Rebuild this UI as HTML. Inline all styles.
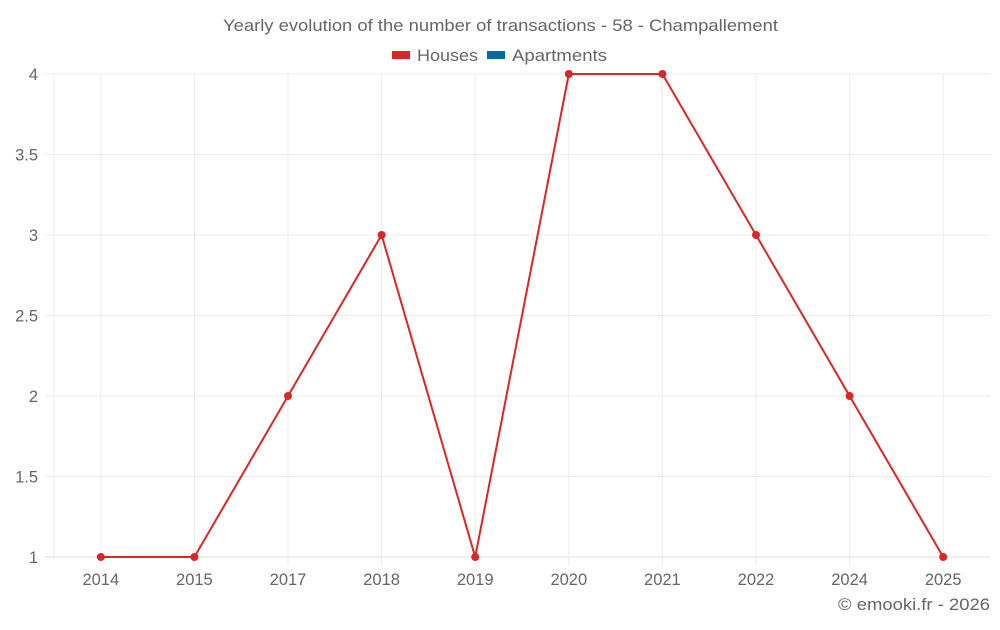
<!DOCTYPE html>
<html><head><meta charset="utf-8"><style>
body{margin:0;background:#fff;font-family:"Liberation Sans",sans-serif}
svg text{font-family:"Liberation Sans",sans-serif;fill:#666}
</style></head><body>
<svg id="c" width="1000" height="625" xmlns="http://www.w3.org/2000/svg">
<text x="223" y="31" font-size="16.5" textLength="555" lengthAdjust="spacingAndGlyphs">Yearly evolution of the number of transactions - 58 - Champallement</text>
<g><rect x="392" y="51" width="18" height="8" fill="#dc2626"/><text x="417" y="61" font-size="16.5" textLength="61" lengthAdjust="spacingAndGlyphs">Houses</text></g>
<g><rect x="487" y="51" width="18" height="8" fill="#0369a1"/><text x="512" y="61" font-size="16.5" textLength="95" lengthAdjust="spacingAndGlyphs">Apartments</text></g>
<g id="grid"></g><g id="axes"></g><g id="series"></g>
<text x="838" y="610" font-size="16.5" textLength="152" lengthAdjust="spacingAndGlyphs">© emooki.fr - 2026</text>
</svg>
<script>
const categories=["2014","2015","2017","2018","2019","2020","2021","2022","2024","2025"];
const houses=[1,1,2,3,1,4,4,3,2,1];
const yTicks=[1,1.5,2,2.5,3,3.5,4];
const yTickLabels=["1","1.5","2","2.5","3","3.5","4"];
const NS="http://www.w3.org/2000/svg";
const L=54,R=990,T=74,B=557,yMin=1,yMax=4;
const bw=(R-L)/categories.length;
const x=i=>L+bw*(i+0.5);
const y=v=>B-(v-yMin)/(yMax-yMin)*(B-T);
function mk(t,a,p){const e=document.createElementNS(NS,t);for(const k in a)e.setAttribute(k,a[k]);p.appendChild(e);return e;}
const g=document.getElementById('grid'),ax=document.getElementById('axes'),s=document.getElementById('series');
yTicks.forEach((v,i)=>{
 const l=mk('line',{x1:45,x2:R,y1:y(v),y2:y(v),stroke:v===yMin?'#ddd':'#ebebeb','stroke-width':1},g);
 
 
 const t=mk('text',{x:38,y:y(v)+6,'text-anchor':'end','font-size':16.5},ax);t.textContent=yTickLabels[i];
 
 
});
mk('line',{x1:L,x2:L,y1:T,y2:B,stroke:'#ebebeb'},g);
categories.forEach((c,i)=>{
 const l=mk('line',{x1:x(i),x2:x(i),y1:T,y2:B+8,stroke:'#ebebeb'},g);
 
 
 const t=mk('text',{x:x(i),y:585,'text-anchor':'middle','font-size':16.5},ax);t.textContent=c;
 
 
});
const line=mk('polyline',{points:houses.map((v,i)=>x(i)+','+y(v)).join(' '),fill:'none',stroke:'#dc2626','stroke-width':2},s);


houses.forEach((v,i)=>{
 const p=mk('circle',{cx:x(i),cy:y(v),r:4,fill:'#dc2626'},s);
 
 
});
</script>
</body></html>
